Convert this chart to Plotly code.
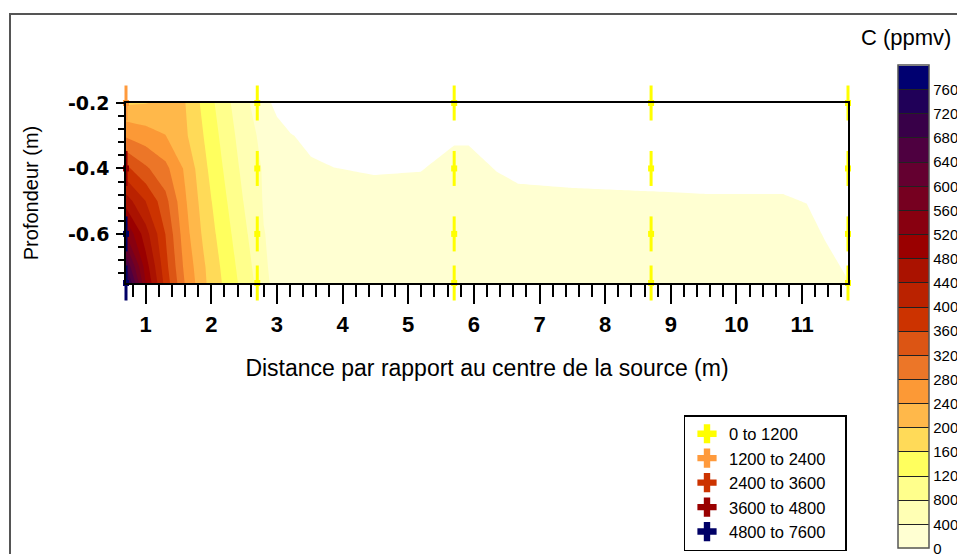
import plotly.graph_objects as go

# ---- interpolated concentration surface (ppmv) --------------------------------
# grid columns: distance from the source centre (m)
X_GRID = [0.7, 1.0, 1.3, 1.6, 1.9, 2.2, 2.5, 2.8, 3.0, 3.21, 3.52, 3.87, 4.48,
          5.19, 5.7, 5.92, 6.35, 6.68, 7.44, 8.7, 9.52, 10.71, 11.07, 11.35, 11.7]
# grid rows: depth (m), from the surface downwards
DEPTHS = [-0.2, -0.3, -0.4, -0.5, -0.6, -0.7, -0.75]

Z_D020 = [1950, 1985, 2080, 2010, 1461, 939, 507, 133, -109, -367, -328, -394, -440,
          -420, -260, -260, -420, -494, -518, -540, -556, -556, -614, -840, -1080]
Z_D030 = [2750, 2581, 2411, 2069, 1569, 1054, 590, 291, 150, 28, -128, -194, -240,
          -220, -60, -60, -220, -294, -318, -340, -356, -356, -414, -640, -880]
Z_D040 = [3700, 3267, 2914, 2341, 1677, 1162, 681, 360, 290, 214, 72, 6, -40,
          -20, 140, 140, -20, -94, -118, -140, -156, -156, -214, -440, -680]
Z_D050 = [4600, 4000, 3333, 2453, 1783, 1269, 780, 370, 340, 350, 272, 206, 160,
          180, 340, 340, 180, 106, 82, 60, 44, 44, -14, -240, -480]
Z_D060 = [5600, 4567, 3600, 2560, 1885, 1376, 889, 410, 320, 350, 350, 350, 350,
          350, 350, 350, 350, 306, 282, 260, 244, 244, 186, -40, -280]
Z_D070 = [6800, 5000, 3745, 2693, 2020, 1481, 995, 505, 170, 350, 350, 350, 350,
          350, 350, 350, 350, 350, 350, 350, 350, 350, 350, 160, -80]
Z_D075 = [7500, 5200, 3855, 2775, 2047, 1533, 1046, 557, 200, 350, 350, 350, 350,
          350, 350, 350, 350, 350, 350, 350, 350, 350, 350, 260, 20]
Z_ROWS = [Z_D020, Z_D030, Z_D040, Z_D050, Z_D060, Z_D070, Z_D075]

# contour classes of the colour scale
LEVEL_START, LEVEL_END, LEVEL_STEP, SCALE_MAX = 0, 7600, 400, 8000
BAND_COLORS = [
    "#FFFFD2", "#FFFFB4", "#FFFF8C", "#FFFF5E", "#FFDA58", "#FFB84A", "#FC9936",
    "#EC7628", "#DC5514", "#CC3300", "#BA2200", "#AA1200", "#9A0000", "#880010",
    "#760020", "#640030", "#4E0040", "#380048", "#200058", "#000070",
]
CB_TICKS = list(range(0, 7601, 400))

# ---- measurement points -------------------------------------------------------
POINT_DIST = [0.7, 2.7, 5.7, 8.7, 11.7]
POINT_DEPTH = [-0.2, -0.4, -0.6, -0.75]
POINT_C = [
    [1950, 3700, 5600, 7500],
    [260, 470, 570, 720],
    [0, 140, 350, 350],
    [0, 0, 260, 350],
    [0, 0, 0, 20],
]
CLASS_EDGES = [0, 1200, 2400, 3600, 4800, 7600]
CLASS_LABELS = ["0 to 1200", "1200 to 2400", "2400 to 3600", "3600 to 4800", "4800 to 7600"]
CLASS_COLORS = ["#FFFF00", "#FF9A3C", "#CC3300", "#990000", "#000066"]

ARIAL = "Liberation Sans, Arial, sans-serif"

fig = go.Figure()

# filled contours; the region below the first level stays white
n_levels = (LEVEL_END - LEVEL_START) // LEVEL_STEP + 1
fill_colors = ["#FFFFFF"] + BAND_COLORS
contour_scale = [[i / n_levels, c] for i, c in enumerate(fill_colors)]
fig.add_trace(go.Contour(
    x=X_GRID, y=DEPTHS[::-1], z=Z_ROWS[::-1],
    autocontour=False,
    contours=dict(start=LEVEL_START, end=LEVEL_END, size=LEVEL_STEP,
                  coloring="fill", showlines=False),
    line=dict(width=0, smoothing=0),
    colorscale=contour_scale, showscale=False, hoverinfo="skip",
))

# stand-alone stepped colour bar 0 - 8000
n_bands = len(BAND_COLORS)
step_scale = []
for i, c in enumerate(BAND_COLORS):
    step_scale.append([i / n_bands, c])
    step_scale.append([(i + 1) / n_bands, c])
fig.add_trace(go.Scatter(
    x=[None], y=[None], mode="markers", showlegend=False, hoverinfo="skip",
    marker=dict(
        color=[0], cmin=0, cmax=SCALE_MAX, colorscale=step_scale, showscale=True,
        colorbar=dict(
            x=(897.5 - 126) / 722, xanchor="left", xpad=0,
            y=(283 - 65.5) / 180, yanchor="top", ypad=0,
            thickness=31, thicknessmode="pixels", len=482.5, lenmode="pixels",
            tickvals=CB_TICKS, ticktext=[str(v) for v in CB_TICKS],
            ticks="inside", ticklen=31, tickwidth=1.2, tickcolor="#222222",
            ticklabeloverflow="allow",
            outlinecolor="#555555", outlinewidth=1.5,
            tickfont=dict(family=ARIAL, size=15, color="black"),
        ),
    ),
))

# measurement points, coloured by concentration class
def class_of(v):
    for k in range(len(CLASS_EDGES) - 1):
        if v < CLASS_EDGES[k + 1] or k == len(CLASS_EDGES) - 2:
            return k
    return len(CLASS_EDGES) - 2

for k, (label, color) in enumerate(zip(CLASS_LABELS, CLASS_COLORS)):
    xs, ys = [], []
    for i, d in enumerate(POINT_DIST):
        for j, z in enumerate(POINT_DEPTH):
            if class_of(POINT_C[i][j]) == k:
                xs.append(d)
                ys.append(z)
    fig.add_trace(go.Scatter(
        x=xs, y=ys, mode="markers", cliponaxis=False, showlegend=False, hoverinfo="skip",
        marker=dict(symbol="line-ns", size=25, line=dict(width=3, color=color)),
    ))
    fig.add_trace(go.Scatter(
        x=xs, y=ys, mode="markers", cliponaxis=False, showlegend=False, hoverinfo="skip",
        marker=dict(symbol="square", size=6, color=color, line=dict(width=0)),
    ))
    # legend entry
    fig.add_trace(go.Scatter(
        x=[None], y=[None], mode="markers", name=label + "\u00a0\u00a0\u00a0",
        marker=dict(symbol="cross", size=16, color=color, line=dict(width=0)),
    ))

fig.update_layout(
    width=957, height=554, autosize=False,
    margin=dict(l=126, r=109, t=103, b=271, autoexpand=False),
    paper_bgcolor="white", plot_bgcolor="white",
    font=dict(family=ARIAL, color="black"),
    showlegend=True,
    legend=dict(
        x=(683.5 - 126) / 722, y=(283 - 415) / 180, xanchor="left", yanchor="top",
        bordercolor="black", borderwidth=1.5, bgcolor="white", itemwidth=34,
        font=dict(family=ARIAL, size=16.5, color="black"), tracegroupgap=0,
    ),
    xaxis=dict(
        range=[0.7, 11.7], tick0=0, dtick=1, showgrid=False, zeroline=False,
        showline=True, linecolor="black", linewidth=1.5, mirror=True,
        ticks="outside", ticklen=19, tickwidth=1.5, tickcolor="black",
        ticklabelstandoff=2,
        minor=dict(tick0=0, dtick=0.2, ticks="outside", ticklen=12, tickwidth=1.5,
                   tickcolor="black"),
        tickfont=dict(family=ARIAL, size=22, weight="bold", color="black"),
        title=dict(text="Distance par rapport au centre de la source (m)",
                   font=dict(family=ARIAL, size=23, color="black"), standoff=24),
    ),
    yaxis=dict(
        range=[-0.75, -0.2], tickvals=[-0.2, -0.4, -0.6], ticktext=["-0.2", "-0.4", "-0.6"],
        showgrid=False, zeroline=False,
        showline=True, linecolor="black", linewidth=1.5, mirror=True,
        ticks="outside", ticklen=8, tickwidth=1.5, tickcolor="black",
        ticklabelstandoff=3,
        minor=dict(tick0=-0.2, dtick=0.04, ticks="outside", ticklen=6, tickwidth=1.5,
                   tickcolor="black"),
        tickfont=dict(family="DejaVu Sans, sans-serif", size=19, weight="bold", color="black"),
        title=dict(text="Profondeur (m)", font=dict(family=ARIAL, size=20, color="black"),
                   standoff=24),
    ),
    annotations=[dict(
        text="C (ppmv)", xref="paper", yref="paper", x=(905.5 - 126) / 722, y=(283 - 38) / 180,
        xanchor="center", yanchor="middle", showarrow=False,
        font=dict(family=ARIAL, size=22, color="black"),
    )],
    shapes=[dict(
        type="rect", xref="paper", yref="paper", layer="below",
        x0=(10 - 126) / 722, x1=1.6, y0=-2.0, y1=(283 - 14) / 180,
        line=dict(color="#555555", width=2), fillcolor="rgba(0,0,0,0)",
    )],
)

fig.write_html("out.html")
